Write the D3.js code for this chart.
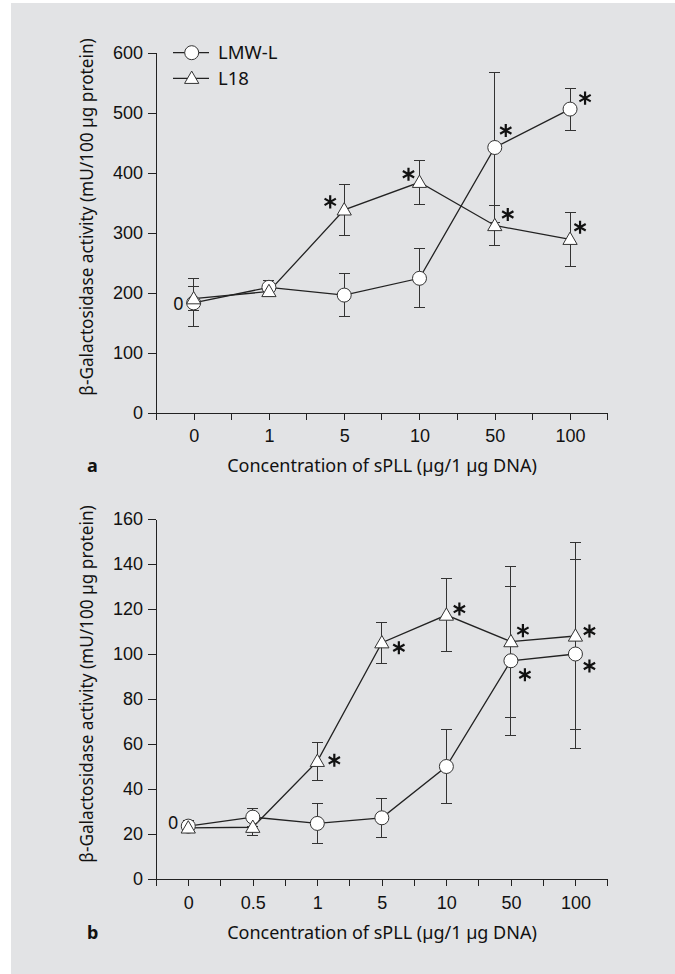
<!DOCTYPE html>
<html>
  <head>
    <meta http-equiv="Content-Type" content="text/html;charset=utf-8"/>
    <style type="text/css">

body {
  margin: 0;
  background: #fff;
}

svg {
  font-family: "Noto Sans", sans-serif;
  font-size: 18px;
}

.axis path, .axis line {
  stroke: #222;
  shape-rendering: crispEdges;
}

.axis text {
  fill: #111;
}

.errbar {
  stroke: #333;
  stroke-width: 1px;
  shape-rendering: crispEdges;
}

.marker {
  fill: #fff;
  stroke: #333;
  stroke-width: 1px;
}

.star {
  fill: none;
  stroke: #111;
  stroke-width: 2.2px;
}

    </style>
  </head>
  <body>
    <svg></svg>

    <script type="text/javascript" src="https://cdn.jsdelivr.net/npm/d3@7"></script>

    <script type="text/javascript">

// panel a
var catsA = ["0", "1", "5", "10", "50", "100"];
var lmwA = [183, 209, 196, 224, 442, 506];
var lmwErrA = [40, 12, 36, 49, 125, 35];
var l18A = [190, 202, 338, 384, 312, 289];
var l18ErrA = [20, 8, 43, 37, 33, 45];
var lmwStarA = [0, 0, 0, 0, 1, 1];
var l18StarA = [0, 0, 1, 1, 1, 1];
var yTicksA = [0, 100, 200, 300, 400, 500, 600];

// panel b
var catsB = ["0", "0.5", "1", "5", "10", "50", "100"];
var lmwB = [23.5, 27.5, 24.7, 27.2, 50, 97, 100];
var lmwErrB = [2.5, 4, 8.8, 8.7, 16.6, 33, 42];
var l18B = [22.7, 23, 52.3, 105, 117.3, 105.5, 108];
var l18ErrB = [2, 3.5, 8.5, 9, 16.3, 33.5, 41.5];
var lmwStarB = [0, 0, 0, 0, 0, 1, 1];
var l18StarB = [0, 0, 1, 1, 1, 1, 1];
var yTicksB = [0, 20, 40, 60, 80, 100, 120, 140, 160];

var seriesNames = ["LMW-L", "L18"];
var xTitle = "Concentration of sPLL (\u00b5g/1 \u00b5g DNA)";
var yTitle = "\u03b2-Galactosidase activity (mU/100 \u00b5g protein)";

var W = 675, H = 974;

var svg = d3.select("svg")
    .attr("width", W)
    .attr("height", H);

svg.append("rect")
    .attr("x", 11).attr("y", 3)
    .attr("width", W - 11).attr("height", H - 3)
    .attr("fill", "#e2e3e5");

var circleSym = d3.symbol().type(d3.symbolCircle).size(Math.PI * 49);
var triSym = d3.symbol().type(d3.symbolTriangle).size(88);
var starSym = d3.symbol().type(d3.symbolAsterisk).size(120);

function panel(opt) {
  var g = svg.append("g");

  var x = d3.scalePoint()
      .domain(opt.cats)
      .range([156, 607.7])
      .padding(0.5);

  var y = d3.scaleLinear()
      .domain([0, opt.ymax])
      .range([opt.y0, opt.y1]);

  // y axis
  g.append("g")
      .attr("class", "axis")
      .attr("transform", "translate(156,0)")
      .call(d3.axisLeft(y).tickValues(opt.yticks).tickSize(8).tickSizeOuter(0).tickPadding(5))
      .call(a => a.selectAll("text").attr("font-size", 18));

  // x axis
  var xa = g.append("g")
      .attr("class", "axis")
      .attr("transform", "translate(0," + opt.y0 + ")")
      .call(d3.axisBottom(x).tickSize(7).tickSizeOuter(0).tickPadding(10));
  xa.selectAll("text").attr("font-size", 18);
  // ticks between categories
  xa.selectAll(".minor")
      .data(d3.range(opt.cats.length + 1))
    .enter().append("line")
      .attr("class", "minor")
      .attr("x1", i => 156 + i * x.step())
      .attr("x2", i => 156 + i * x.step())
      .attr("y1", 0).attr("y2", 7);

  g.append("text")
      .attr("x", 382)
      .attr("y", opt.y0 + 59.5)
      .attr("text-anchor", "middle")
      .attr("font-size", 18)
      .attr("fill", "#111")
      .text(xTitle);

  g.append("text")
      .attr("x", 87)
      .attr("y", opt.y0 + 59.5)
      .attr("font-size", 18)
      .attr("font-weight", "bold")
      .attr("fill", "#111")
      .text(opt.tag);

  g.append("text")
      .attr("transform", "translate(93," + opt.ymid + ") rotate(-90)")
      .attr("text-anchor", "middle")
      .attr("font-size", 17.2)
      .attr("fill", "#111")
      .text(yTitle);

  var series = [
    {name: seriesNames[0], vals: opt.lmw, errs: opt.lmwErr, stars: opt.lmwStar, sym: circleSym, off: opt.lmwOff},
    {name: seriesNames[1], vals: opt.l18, errs: opt.l18Err, stars: opt.l18Star, sym: triSym, off: opt.l18Off}
  ];

  series.forEach(function (s) {
    s.pts = opt.cats.map((c, i) => ({c: c, v: s.vals[i], e: s.errs[i], star: s.stars[i], off: s.off[i]}));
  });

  var line = d3.line()
      .x(d => x(d.c))
      .y(d => y(d.v));

  // lines
  g.selectAll("path.line")
      .data(series)
    .enter().append("path")
      .attr("class", "line")
      .attr("fill", "none")
      .attr("stroke", "#222")
      .attr("stroke-width", 1.3)
      .attr("d", d => line(d.pts));

  // error bars
  series.forEach(function (s) {
    var eb = g.append("g").selectAll("g")
        .data(s.pts)
      .enter().append("g");
    eb.append("line")
        .attr("class", "errbar")
        .attr("x1", d => x(d.c)).attr("x2", d => x(d.c))
        .attr("y1", d => y(d.v + d.e)).attr("y2", d => y(d.v - d.e));
    eb.append("line")
        .attr("class", "errbar")
        .attr("x1", d => x(d.c) - 5.5).attr("x2", d => x(d.c) + 5.5)
        .attr("y1", d => y(d.v + d.e)).attr("y2", d => y(d.v + d.e));
    eb.append("line")
        .attr("class", "errbar")
        .attr("x1", d => x(d.c) - 5.5).attr("x2", d => x(d.c) + 5.5)
        .attr("y1", d => y(d.v - d.e)).attr("y2", d => y(d.v - d.e));
  });

  // markers
  series.forEach(function (s) {
    g.append("g").selectAll("path")
        .data(s.pts)
      .enter().append("path")
        .attr("class", "marker")
        .attr("transform", d => "translate(" + x(d.c) + "," + (y(d.v) + (s.sym === triSym ? 1 : 0)) + ")")
        .attr("d", s.sym);
  });

  // significance stars
  series.forEach(function (s) {
    g.append("g").selectAll("path")
        .data(s.pts.filter(d => d.star))
      .enter().append("path")
        .attr("class", "star")
        .attr("transform", d => "translate(" + (x(d.c) + d.off[0]) + "," + (y(d.v) + d.off[1]) + ")")
        .attr("d", starSym);
  });

  // "0" beside the first point
  g.append("text")
      .attr("x", x(opt.cats[0]) - 10)
      .attr("y", y(opt.lmw[0]) + opt.zeroDy)
      .attr("text-anchor", "end")
      .attr("font-size", 18)
      .attr("fill", "#111")
      .text("0");

  return g;
}

panel({
  tag: "a", cats: catsA, ymax: 600, y0: 412.7, y1: 52.7, ymid: 217, yticks: yTicksA,
  lmw: lmwA, lmwErr: lmwErrA, lmwStar: lmwStarA,
  l18: l18A, l18Err: l18ErrA, l18Star: l18StarA,
  lmwOff: [[0,0],[0,0],[0,0],[0,0],[11,-17],[15,-11]],
  l18Off: [[0,0],[0,0],[-14,-8],[-11,-8],[13,-11],[10,-12]],
  zeroDy: 7
});

panel({
  tag: "b", cats: catsB, ymax: 160, y0: 879, y1: 519, ymid: 684, yticks: yTicksB,
  lmw: lmwB, lmwErr: lmwErrB, lmwStar: lmwStarB,
  l18: l18B, l18Err: l18ErrB, l18Star: l18StarB,
  lmwOff: [[0,0],[0,0],[0,0],[0,0],[0,0],[14,14],[14,12]],
  l18Off: [[0,0],[0,0],[17,-1],[17,5],[13,-6],[12,-11],[14,-5]],
  zeroDy: 3
});

// legend (panel a)
var legend = svg.append("g").attr("class", "legend");
[circleSym, triSym].forEach(function (sym, i) {
  var ly = 52.7 + i * 25.6;
  legend.append("line")
      .attr("x1", 173).attr("x2", 209)
      .attr("y1", ly).attr("y2", ly)
      .attr("stroke", "#222").attr("stroke-width", 1.3);
  legend.append("path")
      .attr("class", "marker")
      .attr("transform", "translate(191.7," + (ly + (i ? 1 : 0)) + ")")
      .attr("d", sym);
  legend.append("text")
      .attr("x", 218)
      .attr("y", ly + 6.5)
      .attr("font-size", 18.5)
      .attr("fill", "#111")
      .text(seriesNames[i]);
});

    </script>
  </body>
</html>
